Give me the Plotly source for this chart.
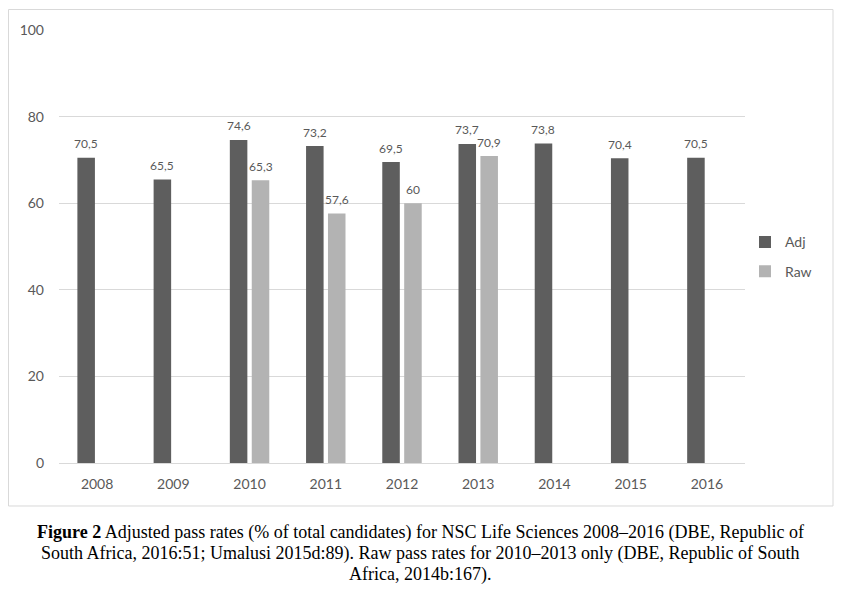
import plotly.graph_objects as go

years = [2008, 2009, 2010, 2011, 2012, 2013, 2014, 2015, 2016]
adj = [70.5, 65.5, 74.6, 73.2, 69.5, 73.7, 73.8, 70.4, 70.5]
raw = [None, None, 65.3, 57.6, 60.0, 70.9, None, None, None]
y_ticks = [0, 20, 40, 60, 80, 100]
caption_lines = [
    "<b>Figure 2</b> Adjusted pass rates (% of total candidates) for NSC Life Sciences 2008\u20132016 (DBE, Republic of",
    "South Africa, 2016:51; Umalusi 2015d:89). Raw pass rates for 2010\u20132013 only (DBE, Republic of South",
    "Africa, 2014b:167).",
]

ADJ_COLOR = "#5e5e5e"
RAW_COLOR = "#b3b3b3"
TEXT_COLOR = "#595959"
FONT = "Lato"


def fmt(v):
    s = ("%.1f" % v).rstrip("0").rstrip(".")
    return s.replace(".", ",")


fig = go.Figure()
fig.add_trace(go.Bar(name="Adj", x=years, y=adj, legendgroup="a",
                     marker=dict(color=ADJ_COLOR, line=dict(width=0))))
fig.add_trace(go.Bar(name="Raw", x=years, y=raw, legendgroup="b",
                     marker=dict(color=RAW_COLOR, line=dict(width=0))))

annotations = []
for yr, v in zip(years, adj):
    annotations.append(dict(x=yr, y=v, text=fmt(v), showarrow=False, xshift=-11, yshift=14,
                            font=dict(family=FONT, size=12, color=TEXT_COLOR)))
for yr, v in zip(years, raw):
    if v is not None:
        annotations.append(dict(x=yr, y=v, text=fmt(v), showarrow=False, xshift=11, yshift=14,
                                font=dict(family=FONT, size=12, color=TEXT_COLOR)))

caption_y = [-0.1594, -0.2079, -0.2564]
for line, cy in zip(caption_lines, caption_y):
    annotations.append(dict(
        xref="paper", yref="paper", x=0.5269, y=cy, xanchor="center", yanchor="middle",
        showarrow=False, text=line,
        font=dict(family="Liberation Serif", size=18, color="#000000"),
    ))

fig.update_layout(
    width=834, height=588,
    margin=dict(l=51, r=97, t=22, b=133),
    paper_bgcolor="white", plot_bgcolor="white",
    barmode="group", bargap=0.425, bargroupgap=0.2,
    font=dict(family=FONT, size=13, color=TEXT_COLOR),
    showlegend=True,
    legend=dict(x=1.0, y=0.476, xanchor="left", yanchor="middle",
                font=dict(family=FONT, size=14, color=TEXT_COLOR),
                tracegroupgap=8, itemwidth=30, bgcolor="rgba(0,0,0,0)"),
    xaxis=dict(type="linear", range=[2007.5, 2016.5], tickvals=years,
               ticktext=[str(y) for y in years],
               showgrid=False, zeroline=False, showline=True, linecolor="#d9d9d9", linewidth=1,
               ticks="outside", ticklen=8, tickcolor="rgba(0,0,0,0)",
               tickfont=dict(family=FONT, size=14, color=TEXT_COLOR)),
    yaxis=dict(range=[0, 100], tickvals=y_ticks, showgrid=True, gridcolor="#d9d9d9",
               gridwidth=1, zeroline=False, showline=False, ticks="",
               tickfont=dict(family=FONT, size=14, color=TEXT_COLOR),
               ticklabelstandoff=14),
    annotations=annotations,
    shapes=[dict(type="rect", xref="paper", yref="paper",
                 x0=-0.0736, x1=1.1283, y0=-0.0993, y1=1.0473,
                 line=dict(color="#d9d9d9", width=1), fillcolor="rgba(0,0,0,0)", layer="below")],
)

fig.write_html("out.html")
